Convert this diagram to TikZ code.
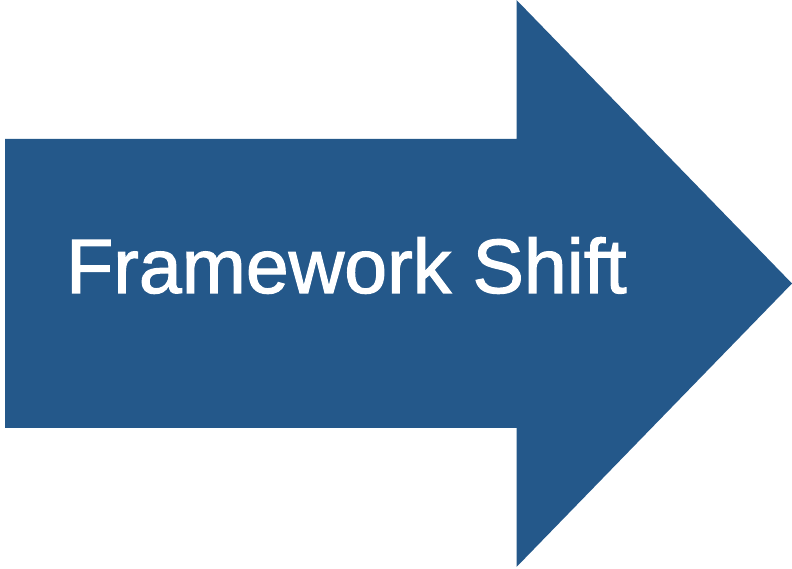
\documentclass[tikz,border=0pt]{standalone}
\usepackage{fontspec}
\setmainfont{Liberation Sans}
\newfontfamily\heavyfont[FakeBold=1.5]{Liberation Sans}
\definecolor{arrowblue}{RGB}{36,88,138}
\begin{document}
\begin{tikzpicture}[x=1pt,y=1pt,
  arrowshape/.style={fill=arrowblue,draw=none},
  label/.style={text=white,font=\heavyfont\fontsize{77}{80}\selectfont,inner sep=0pt,anchor=base}]
\useasboundingbox (0,0) rectangle (792,569);
\fill[white] (0,0) rectangle (792,569);
\path[arrowshape] (5,430) -- (516.5,430) -- (516.5,569) -- (792,285.5) -- (516.5,2) -- (516.5,141) -- (5,141) -- cycle;
\node[label] (title) at (346.5,276) {Framework Shift};
\end{tikzpicture}
\end{document}
